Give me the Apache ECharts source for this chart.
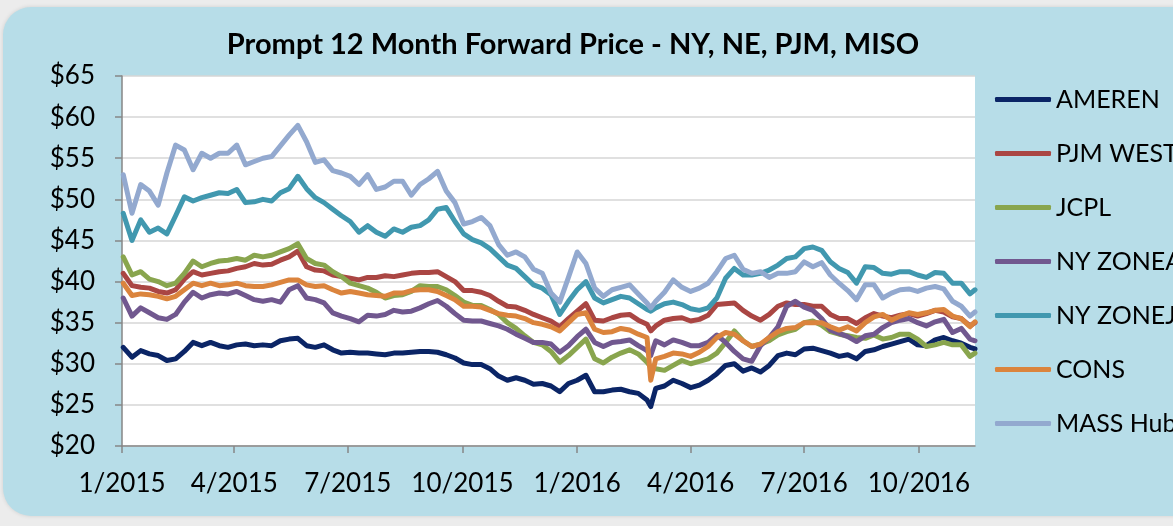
<!DOCTYPE html>
<html>
<head>
<meta charset="utf-8">
<script src="https://cdn.jsdelivr.net/npm/echarts@6/dist/echarts.min.js"></script>
<style>
  html, body { margin: 0; padding: 0; background: #ececec; overflow: hidden; }
  #bg { position: absolute; left: 3px; top: 7px; width: 1220px; height: 509px;
        background: #b7dde8; border-radius: 28px; box-shadow: 0 0 4px rgba(0,0,0,0.12); }
  #main { position: absolute; left: 0; top: 0; width: 1173px; height: 526px; }
</style>
</head>
<body>
<div id="bg"></div>
<div id="main"></div>
<script>
// weekly closes (Fri), plus the 29 Feb 2016 low and the last day shown
var dates = [
  '2015-01-02','2015-01-09','2015-01-16','2015-01-23','2015-01-30','2015-02-06','2015-02-13','2015-02-20','2015-02-27',
  '2015-03-06','2015-03-13','2015-03-20','2015-03-27','2015-04-03','2015-04-10','2015-04-17','2015-04-24',
  '2015-05-01','2015-05-08','2015-05-15','2015-05-22','2015-05-29','2015-06-05','2015-06-12','2015-06-19','2015-06-26',
  '2015-07-03','2015-07-10','2015-07-17','2015-07-24','2015-07-31','2015-08-07','2015-08-14','2015-08-21','2015-08-28',
  '2015-09-04','2015-09-11','2015-09-18','2015-09-25','2015-10-02','2015-10-09','2015-10-16','2015-10-23','2015-10-30',
  '2015-11-06','2015-11-13','2015-11-20','2015-11-27','2015-12-04','2015-12-11','2015-12-18','2015-12-25',
  '2016-01-01','2016-01-08','2016-01-15','2016-01-22','2016-01-29','2016-02-05','2016-02-12','2016-02-19','2016-02-26',
  '2016-02-29','2016-03-04','2016-03-11','2016-03-18','2016-03-25','2016-04-01','2016-04-08','2016-04-15','2016-04-22',
  '2016-04-29','2016-05-06','2016-05-13','2016-05-20','2016-05-27','2016-06-03','2016-06-10','2016-06-17','2016-06-24',
  '2016-07-01','2016-07-08','2016-07-15','2016-07-22','2016-07-29','2016-08-05','2016-08-12','2016-08-19','2016-08-26',
  '2016-09-02','2016-09-09','2016-09-16','2016-09-23','2016-09-30','2016-10-07','2016-10-14','2016-10-21','2016-10-28',
  '2016-11-04','2016-11-11','2016-11-15'
];

var ameren = [
  32.0, 30.8, 31.6, 31.2, 31.0, 30.4, 30.6, 31.5, 32.6, 32.2, 32.6, 32.2, 32.0, 32.3, 32.4, 32.2,
  32.3, 32.2, 32.8, 33.0, 33.1, 32.2, 32.0, 32.3, 31.7, 31.3, 31.4, 31.3, 31.3, 31.2, 31.1, 31.3,
  31.3, 31.4, 31.5, 31.5, 31.4, 31.1, 30.7, 30.1, 29.9, 29.9, 29.4, 28.5, 28.0, 28.3, 28.0, 27.5,
  27.6, 27.3, 26.6, 27.6, 28.0, 28.6, 26.6, 26.6, 26.8, 26.9, 26.6, 26.4, 25.6,
  24.8,
  27.0, 27.3, 28.0,
  27.6, 27.1, 27.4, 28.0, 28.8, 29.8, 30.0, 29.1, 29.5, 29.0, 29.8, 31.0, 31.3, 31.1, 31.8, 31.9,
  31.6, 31.3, 30.9, 31.1, 30.6, 31.5, 31.7, 32.1, 32.4, 32.7, 33.0, 32.3, 32.2, 32.9, 33.2, 32.8, 32.5, 32.0,
  31.8
];
var pjmWest = [
  41.0, 39.5, 39.3, 39.2, 38.8, 38.6, 39.0, 40.3, 41.2, 40.8, 41.0, 41.2, 41.3, 41.6, 41.8, 42.2,
  42.0, 42.1, 42.6, 43.0, 43.7, 41.8, 41.4, 41.3, 40.8, 40.6, 40.4, 40.2, 40.5, 40.5, 40.7, 40.6,
  40.8, 41.0, 41.1, 41.1, 41.2, 40.6, 40.0, 38.9, 38.9, 38.7, 38.3, 37.6, 37.0, 36.9, 36.5, 36.0,
  35.6, 35.2, 34.5, 35.5, 36.4, 37.3, 35.3, 35.2, 35.6, 35.9, 36.0, 35.3, 34.8,
  34.0,
  34.6, 35.3, 35.5,
  35.6, 35.2, 35.4, 35.9, 37.2, 37.3, 37.4, 36.5, 35.8, 35.3, 36.0, 37.0, 37.4, 37.2, 37.2, 37.0,
  37.0, 36.0, 35.5, 35.5, 34.9, 35.6, 36.1, 35.8, 35.6, 35.9, 36.1, 35.8, 36.1, 36.5, 36.3, 35.7, 35.5, 34.6,
  35.0
];
var jcpl = [
  43.0, 40.8, 41.2, 40.3, 40.0, 39.5, 39.8, 41.0, 42.5, 41.8, 42.2, 42.5, 42.6, 42.8, 42.6, 43.2,
  43.0, 43.2, 43.6, 44.0, 44.6, 42.8, 42.2, 42.0, 41.2, 40.6, 39.8, 39.5, 39.2, 38.7, 38.0, 38.3,
  38.4, 38.8, 39.5, 39.4, 39.4, 39.0, 38.3, 37.5, 37.1, 37.1, 36.6, 36.0, 35.0, 34.3, 33.4, 32.6,
  32.3, 31.5, 30.2, 31.0, 32.0, 33.0, 30.6, 30.1, 30.8, 31.3, 31.7, 31.2, 30.2,
  29.6,
  29.4, 29.2, 29.8,
  30.4, 30.0, 30.3, 30.6, 31.3, 32.6, 34.0, 32.8, 32.1, 32.4, 32.8, 33.5, 33.9, 34.2, 35.0, 35.2,
  34.7, 33.9, 33.6, 33.4, 33.2, 33.1, 33.5, 33.0, 33.2, 33.6, 33.6, 33.0, 32.1, 32.3, 32.6, 32.3, 32.3, 30.9,
  31.3
];
var nyZoneA = [
  38.0, 35.8, 36.8, 36.2, 35.6, 35.4, 36.0, 37.5, 38.7, 38.0, 38.4, 38.6, 38.5, 38.8, 38.3, 37.8,
  37.6, 37.8, 37.5, 39.0, 39.5, 38.0, 37.8, 37.4, 36.2, 35.8, 35.5, 35.1, 35.9, 35.8, 36.0, 36.5,
  36.3, 36.4, 36.8, 37.3, 37.7, 37.0, 36.1, 35.3, 35.2, 35.2, 34.9, 34.6, 34.2, 33.6, 33.1, 32.6,
  32.6, 32.4, 31.4, 32.2, 33.3, 34.2, 32.6, 32.1, 32.6, 32.7, 32.9, 32.2, 31.6,
  31.0,
  32.8, 32.3, 32.9,
  32.6, 32.2, 32.2, 32.6, 33.5, 32.6, 31.5, 30.6, 30.3, 32.2, 33.2, 34.5, 37.0, 37.6, 36.9, 36.5,
  35.5, 34.1, 33.7, 33.3, 32.7, 33.4, 33.6, 34.4, 35.0, 35.3, 35.5, 35.0, 34.6, 35.1, 35.4, 33.8, 34.3, 33.0,
  32.8
];
var nyZoneJ = [
  48.3, 45.0, 47.5, 46.0, 46.5, 45.8, 48.0, 50.3, 49.8, 50.2, 50.5, 50.8, 50.7, 51.2, 49.6, 49.7,
  50.0, 49.8, 50.8, 51.3, 52.8, 51.3, 50.2, 49.6, 48.8, 48.0, 47.3, 46.0, 46.8, 46.0, 45.5, 46.4,
  46.0, 46.6, 46.8, 47.5, 48.8, 49.0, 47.3, 45.8, 45.1, 44.7, 44.0, 43.0, 42.0, 41.6, 40.6, 39.6,
  39.2, 38.4, 36.0, 37.6, 39.0, 40.0, 38.0, 37.4, 37.8, 38.2, 38.0, 37.3, 36.6,
  36.4,
  36.8, 37.3, 37.5,
  37.2, 36.7, 36.5, 36.8, 38.0, 40.4, 41.6, 40.8, 40.8, 41.0, 41.4, 42.0, 42.8, 43.0, 44.0, 44.2,
  43.8, 42.4, 41.6, 41.1, 39.8, 41.8, 41.7, 41.0, 40.9, 41.2, 41.2, 40.8, 40.5, 41.1, 41.0, 39.8, 39.8, 38.5,
  39.0
];
var cons = [
  39.8, 38.3, 38.5, 38.4, 38.2, 37.9, 38.2, 39.0, 39.8, 39.5, 39.8, 39.5, 39.6, 39.8, 39.5, 39.4,
  39.4, 39.6, 39.9, 40.2, 40.2, 39.6, 39.4, 39.5, 39.0, 38.6, 38.8, 38.6, 38.4, 38.3, 38.2, 38.6,
  38.6, 38.9, 39.0, 39.0, 38.8, 38.3, 37.8, 37.0, 37.0, 36.9, 36.5, 36.1, 35.9, 35.8, 35.5, 35.0,
  34.8, 34.5, 34.0, 35.0, 36.0, 36.2, 34.2, 33.8, 33.9, 34.3, 34.1, 33.6, 33.2,
  28.0,
  30.6, 30.9, 31.3,
  31.2, 30.9, 31.4, 32.1, 33.2, 33.8, 33.6, 32.8, 32.1, 32.4, 33.2, 33.9, 34.3, 34.4, 35.0, 35.0,
  35.0, 34.5, 34.1, 34.5, 34.0, 35.0, 35.7, 36.0, 35.3, 35.8, 36.2, 36.0, 36.2, 36.5, 36.6, 35.8, 35.5, 34.5,
  35.1
];
var massHub = [
  53.0, 48.3, 51.8, 51.0, 49.3, 53.2, 56.6, 56.0, 53.6, 55.6, 55.0, 55.6, 55.6, 56.6, 54.2, 54.6,
  55.0, 55.2, 56.5, 57.8, 59.0, 57.0, 54.5, 54.8, 53.5, 53.2, 52.8, 51.8, 53.0, 51.2, 51.5, 52.2,
  52.2, 50.5, 51.8, 52.5, 53.4, 51.0, 49.6, 47.0, 47.3, 47.8, 46.8, 44.5, 43.2, 43.6, 43.0, 41.5,
  41.0, 38.6, 37.5, 40.5, 43.6, 42.2, 39.2, 38.2, 39.0, 39.3, 39.6, 38.5, 37.4,
  36.8,
  37.6, 38.7, 40.2,
  39.3, 38.8, 39.2, 39.8, 41.2, 42.8, 43.2, 41.5, 41.0, 41.2, 40.5, 41.0, 41.0, 41.2, 42.4, 41.8,
  42.3, 40.8, 39.8, 38.9, 37.8, 39.6, 39.6, 38.0, 38.6, 39.0, 39.1, 38.8, 39.2, 39.4, 39.1, 37.6, 37.0, 35.8,
  36.3
];

var seriesNames = ['AMEREN', 'PJM WEST', 'JCPL', 'NY ZONEA', 'NY ZONEJ', 'CONS', 'MASS Hub'];
var seriesValues = [ameren, pjmWest, jcpl, nyZoneA, nyZoneJ, cons, massHub];
var seriesColors = ['#0b2566', '#aa4643', '#89a54e', '#71588f', '#4198af', '#db843d', '#93a9cf'];

var xTickDates = ['2015-01-01','2015-04-01','2015-07-01','2015-10-01','2016-01-01','2016-04-01','2016-07-01','2016-10-01'];
var yTicks = [20, 25, 30, 35, 40, 45, 50, 55, 60, 65];

function toTime(s) {
  var p = s.split('-');
  return new Date(+p[0], +p[1] - 1, +p[2]).getTime();
}
var xTicks = xTickDates.map(toTime);

var FONT = 'Lato';

var myChart = echarts.init(document.getElementById('main'), null, { renderer: 'canvas' });
myChart.setOption({
  animation: false,
  backgroundColor: 'transparent',
  title: {
    text: 'Prompt 12 Month Forward Price - NY, NE, PJM, MISO',
    left: 568,
    top: 25,
    textAlign: 'center',
    textStyle: { fontFamily: FONT, fontWeight: 'bold', fontSize: 29, color: '#000' }
  },
  legend: {
    orient: 'vertical',
    left: 990,
    top: 82,
    itemWidth: 56,
    itemHeight: 5,
    itemGap: 29,
    icon: 'roundRect',
    data: seriesNames,
    textStyle: { fontFamily: FONT, fontSize: 25, color: '#000' }
  },
  grid: {
    left: 122, right: 198, top: 76, bottom: 80,
    show: true, backgroundColor: '#ffffff', borderWidth: 0
  },
  xAxis: {
    type: 'value',
    min: toTime('2015-01-01'),
    max: toTime('2016-11-15'),
    axisLine: { lineStyle: { color: '#868686', width: 1.5 } },
    axisTick: { show: true, length: 7, customValues: xTicks, lineStyle: { color: '#868686', width: 1.5 } },
    axisLabel: {
      customValues: xTicks,
      margin: 25,
      fontFamily: FONT, fontSize: 26, color: '#000',
      formatter: function (v) {
        var d = new Date(v);
        return (d.getMonth() + 1) + '/' + d.getFullYear();
      }
    },
    splitLine: { show: false }
  },
  yAxis: {
    type: 'value',
    min: yTicks[0],
    max: yTicks[yTicks.length - 1],
    interval: 5,
    axisLine: { show: true, lineStyle: { color: '#868686', width: 1.5 } },
    axisTick: { show: true, length: 7, lineStyle: { color: '#868686', width: 1.5 } },
    axisLabel: { margin: 27, fontFamily: FONT, fontSize: 26, color: '#000', formatter: '${value}' },
    splitLine: { lineStyle: { color: '#d6d6d6', width: 1.5 } }
  },
  series: seriesNames.map(function (name, i) {
    return {
      name: name,
      type: 'line',
      symbol: 'none',
      color: seriesColors[i],
      lineStyle: { width: 5, color: seriesColors[i], cap: 'round', join: 'round' },
      data: dates.map(function (d, j) { return [toTime(d), seriesValues[i][j]]; })
    };
  })
});
</script>
</body>
</html>
